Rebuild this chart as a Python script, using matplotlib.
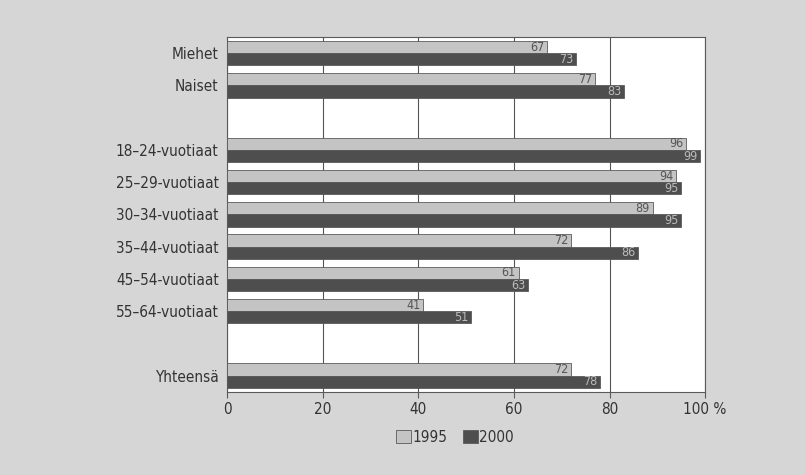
import matplotlib
matplotlib.use("Agg")
import matplotlib.pyplot as plt
from matplotlib.patches import Patch
import numpy as np

plt.rcParams['font.family'] = ['DejaVu Sans']
plt.rcParams['font.stretch'] = 'condensed'

# data
categories = ["Miehet", "Naiset", "18\u201324-vuotiaat", "25\u201329-vuotiaat",
              "30\u201334-vuotiaat", "35\u201344-vuotiaat", "45\u201354-vuotiaat",
              "55\u201364-vuotiaat", "Yhteensä"]
rows = [0, 1, 3, 4, 5, 6, 7, 8, 10]   # empty rows separate the groups
values_1995 = [67, 77, 96, 94, 89, 72, 61, 41, 72]
values_2000 = [73, 83, 99, 95, 95, 86, 63, 51, 78]
years = ["1995", "2000"]
xticks = [0, 20, 40, 60, 80, 100]
xticklabels = ["0", "20", "40", "60", "80", "100 %"]

bg = "#d6d6d6"
light = "#c4c4c4"
dark = "#4e4e4e"
edge = "#5a5a5a"

fig = plt.figure(figsize=(8.05, 4.75), dpi=100, facecolor=bg)
ax = fig.add_axes([0.282, 0.175, 0.594, 0.747])
ax.set_facecolor("white")

pos = np.array(rows, dtype=float)
h = 0.38
ax.barh(pos - h / 2, values_1995, height=h, color=light, edgecolor=edge, linewidth=0.6, zorder=3)
ax.barh(pos + h / 2, values_2000, height=h, color=dark, edgecolor=edge, linewidth=0.6, zorder=3)

for y, v in zip(pos, values_1995):
    ax.text(v - 0.6, y - h / 2, str(v), ha="right", va="center", fontsize=9,
            color="#555555", zorder=4)
for y, v in zip(pos, values_2000):
    ax.text(v - 0.6, y + h / 2, str(v), ha="right", va="center", fontsize=9,
            color="#bbbbbb", zorder=4)

ax.set_xlim(0, 100)
ax.set_ylim(10.5, -0.5)
ax.set_yticks(rows)
ax.set_yticklabels(categories, fontsize=11, color="#333333")
ax.set_xticks(xticks)
ax.set_xticklabels(xticklabels, fontsize=11, color="#333333")
ax.tick_params(axis="y", length=0, pad=6)
ax.tick_params(axis="x", length=4, color=edge, pad=3)
ax.xaxis.grid(True, color="#555555", linewidth=0.8, zorder=0)
for s in ax.spines.values():
    s.set_color(edge)
    s.set_linewidth(0.8)

handles = [Patch(facecolor=light, edgecolor=edge, linewidth=0.6),
           Patch(facecolor=dark, edgecolor=edge, linewidth=0.6)]
fig.legend(handles, years, loc="center", bbox_to_anchor=(0.565, 0.08), ncol=2,
           frameon=False, fontsize=11, handlelength=1.0, handleheight=0.9,
           handletextpad=0.1, columnspacing=1.0, labelcolor="#333333")

fig.savefig("out.png", dpi=100, facecolor=bg)
